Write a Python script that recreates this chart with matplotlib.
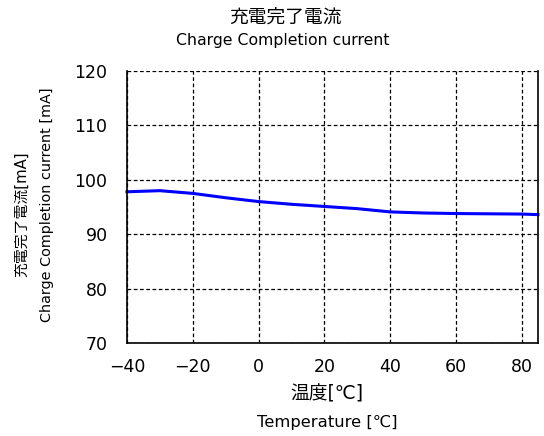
import matplotlib
matplotlib.use("Agg")
import matplotlib.pyplot as plt

plt.rcParams['font.family'] = ['DejaVu Sans', 'Noto Sans CJK JP']

temperature = [-40, -30, -20, -10, 0, 10, 20, 30, 40, 50, 60, 70, 80, 85]
current_ma = [97.8, 98.0, 97.5, 96.7, 96.0, 95.5, 95.1, 94.7, 94.1, 93.9, 93.8, 93.75, 93.7, 93.6]
x_ticks = [-40, -20, 0, 20, 40, 60, 80]
y_ticks = [70, 80, 90, 100, 110, 120]

fig = plt.figure(figsize=(5.44, 4.36), dpi=100)
ax = fig.add_axes([127/544, 1-343/436, (538-127)/544, (343-71)/436])
ax.plot(temperature, current_ma, color='#0000ff', lw=2.2, clip_on=False)
ax.set_xlim(-40, 85)
ax.set_ylim(70, 120)
ax.set_xticks(x_ticks)
ax.set_yticks(y_ticks)
ax.set_xticklabels(['\u221240', '\u221220', '0', '20', '40', '60', '80'])
ax.tick_params(length=0, labelsize=12.5)
ax.tick_params(axis='x', pad=11)
ax.tick_params(axis='y', pad=14)
ax.grid(True, color='black', linestyle=(0, (3, 2)), lw=0.9)
ax.spines['top'].set_visible(False)
for s in ['left', 'right', 'bottom']:
    ax.spines[s].set_linewidth(1.2)

fig.text(285/544, 1 - 17.5/436, '充電完了電流', ha='center', va='center', fontsize=13.5)
fig.text(283/544, 1 - 40/436, 'Charge Completion current', ha='center', va='center', fontsize=11.3)
fig.text(327/544, 1 - 394/436, '温度[℃]', ha='center', va='center', fontsize=13.5)
fig.text(327/544, 1 - 422/436, 'Temperature [℃]', ha='center', va='center', fontsize=11.8)
fig.text(22/544, 1 - 214/436, '充電完了電流[mA]', ha='center', va='center', fontsize=10.7, rotation=90)
fig.text(47/544, 1 - 205/436, 'Charge Completion current [mA]', ha='center', va='center', fontsize=10.4, rotation=90)

fig.savefig('out.png', dpi=100)
